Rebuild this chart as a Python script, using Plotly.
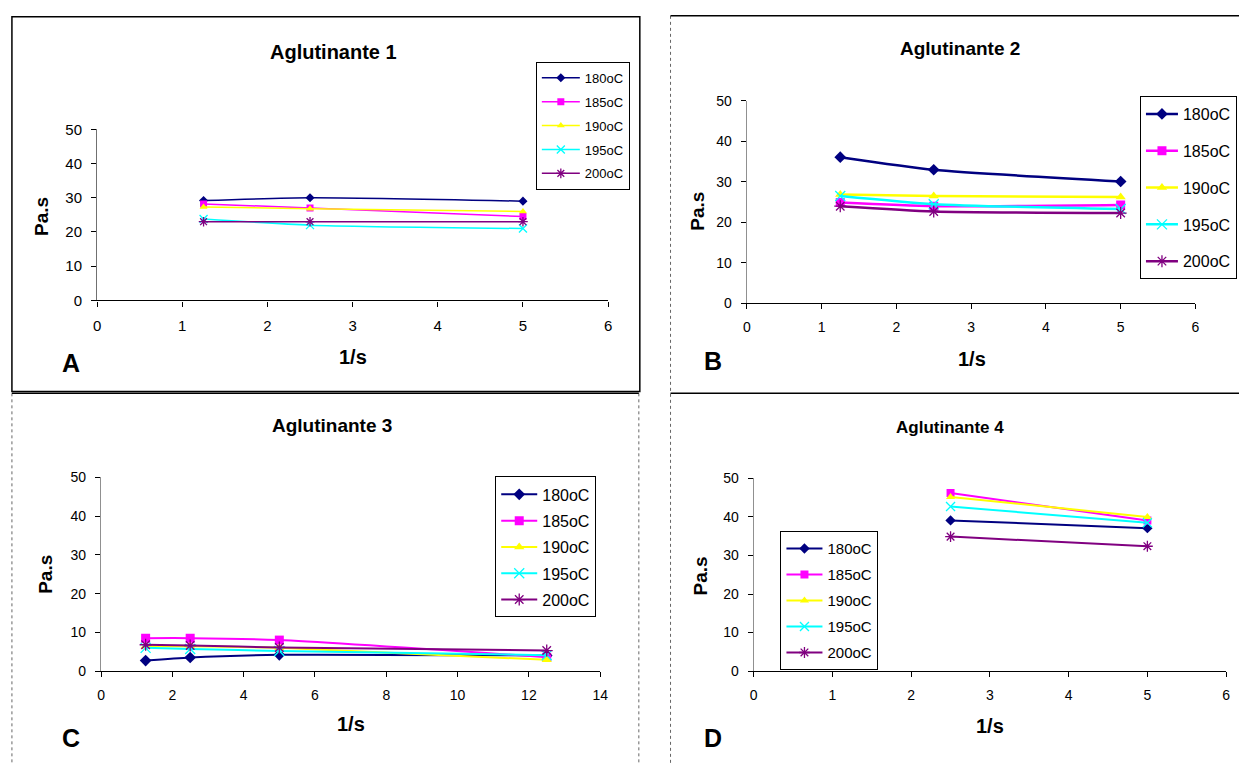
import plotly.graph_objects as go

W, H = 1247, 771

series_names = ["180oC", "185oC", "190oC", "195oC", "200oC"]
colors = ["#000080", "#FF00FF", "#FFFF00", "#00FFFF", "#800080"]
symbols = ["diamond", "square", "triangle-up", "x-thin-open", "asterisk-open"]

# Panel A - Aglutinante 1
x_a = [1.25, 2.5, 5]
a_180 = [29.2, 30.0, 29.0]
a_185 = [28.2, 27.0, 24.5]
a_190 = [27.3, 26.8, 26.0]
a_195 = [23.8, 22.0, 21.0]
a_200 = [23.0, 23.0, 23.0]

# Panel B - Aglutinante 2
x_b = [1.25, 2.5, 5]
b_180 = [36.1, 33.0, 30.1]
b_185 = [24.9, 24.0, 24.3]
b_190 = [26.9, 26.5, 26.3]
b_195 = [26.5, 24.5, 23.3]
b_200 = [24.0, 22.7, 22.3]

# Panel C - Aglutinante 3
x_c = [1.25, 2.5, 5, 12.5]
c_180 = [2.7, 3.5, 4.2, 4.0]
c_185 = [8.5, 8.5, 8.0, 3.6]
c_190 = [6.4, 6.4, 6.0, 2.9]
c_195 = [6.0, 5.7, 5.2, 4.1]
c_200 = [6.8, 6.6, 6.1, 5.3]

# Panel D - Aglutinante 4
x_d = [2.5, 5]
d_180 = [39.1, 37.1]
d_185 = [46.2, 39.1]
d_190 = [45.2, 40.0]
d_195 = [42.7, 38.5]
d_200 = [34.9, 32.4]

titles = ["Aglutinante 1", "Aglutinante 2", "Aglutinante 3", "Aglutinante 4"]
letters = ["A", "B", "C", "D"]
x_title = "1/s"
y_title = "Pa.s"

FONT = "Liberation Sans, Arial, sans-serif"


def px(x):
    return x / W


def py(y):
    return 1 - y / H


panels = [
    dict(x=x_a, ys=[a_180, a_185, a_190, a_195, a_200], xd=(94, 610), yd=(123, 298),
         xr=[0, 6], dt=1, legend=(537, 54), lfont=13, gap=4, iw=38, msize=7, lw=1.5,
         tfont=20, tick=15, ycol="#707070",
         title=(333, 44), xt=(352, 356), yt=(38, 212), let=(68, 362)),
    dict(x=x_b, ys=[b_180, b_185, b_190, b_195, b_200], xd=(750, 1203), yd=(94, 301),
         xr=[0, 6], dt=1, legend=(1147, 89), lfont=16, gap=13, iw=32, msize=9, lw=2.5,
         tfont=19, tick=14, ycol="#909090",
         title=(965, 40), xt=(977, 358), yt=(700, 207), let=(716, 360)),
    dict(x=x_c, ys=[c_180, c_185, c_190, c_195, c_200], xd=(98, 602), yd=(479, 677),
         xr=[0, 14], dt=2, legend=(496, 478), lfont=16, gap=2.5, iw=36, msize=9, lw=2,
         tfont=19, tick=14, ycol="#909090",
         title=(331, 426), xt=(350, 731), yt=(42, 578), let=(68, 745)),
    dict(x=x_d, ys=[d_180, d_185, d_190, d_195, d_200], xd=(757, 1234), yd=(480, 677),
         xr=[0, 6], dt=1, legend=(784, 534), lfont=15, gap=3.5, iw=36, msize=8, lw=2,
         tfont=17, tick=14, ycol="#909090",
         title=(955, 428), xt=(996, 733), yt=(703, 580), let=(716, 745)),
]

fig = go.Figure()
layout = dict(
    width=W, height=H, margin=dict(l=0, r=0, t=0, b=0),
    paper_bgcolor="white", plot_bgcolor="white",
    font=dict(family=FONT, color="black"),
    showlegend=True,
)
annotations = []
shapes = []


def label(text, x, y, size, angle=0):
    return dict(text=text, x=px(x), y=py(y), xref="paper", yref="paper",
                showarrow=False, textangle=angle, xanchor="center", yanchor="middle",
                font=dict(size=size, color="black", family=FONT))


for i, p in enumerate(panels):
    k = "" if i == 0 else str(i + 1)
    lg = "legend" if i == 0 else f"legend{i + 1}"
    for j in range(5):
        sym = symbols[j]
        open_sym = sym.endswith("-open")
        fig.add_trace(go.Scatter(
            x=p["x"], y=p["ys"][j], name=series_names[j],
            mode="lines+markers",
            line=dict(color=colors[j], width=p["lw"], shape="spline", smoothing=0.6),
            marker=dict(symbol=sym, size=p["msize"] + (1 if open_sym else 0), color=colors[j],
                        line=dict(color=colors[j], width=1.3 if open_sym else 0)),
            xaxis="x" + k, yaxis="y" + k, legend=lg, legendgroup=f"g{i}_{j}",
        ))
    layout["xaxis" + k] = dict(
        domain=[px(p["xd"][0]), px(p["xd"][1])], range=p["xr"], dtick=p["dt"], tick0=0,
        anchor="y" + k, showgrid=False, zeroline=False, showline=True,
        linecolor="black", linewidth=1.2, ticks="outside", ticklen=5, tickcolor="black",
        tickfont=dict(size=p["tick"], color="black"), ticklabelstandoff=6, fixedrange=True,
    )
    layout["yaxis" + k] = dict(
        domain=[py(p["yd"][1]), py(p["yd"][0])], range=[0, 50], dtick=10, tick0=0,
        anchor="x" + k, showgrid=False, zeroline=False, showline=True,
        linecolor=p["ycol"], linewidth=1.2, ticks="outside", ticklen=5, tickcolor="black",
        tickfont=dict(size=p["tick"], color="black"), ticklabelstandoff=6,
        fixedrange=True,
    )
    layout[lg] = dict(
        x=px(p["legend"][0]), y=py(p["legend"][1]), xanchor="left", yanchor="top",
        bgcolor="white", bordercolor="black", borderwidth=1,
        font=dict(size=p["lfont"], color="black", family=FONT),
        traceorder="grouped", tracegroupgap=p["gap"], itemwidth=p["iw"],
    )
    annotations.append(label(f"<b>{titles[i]}</b>", *p["title"], p["tfont"]))
    annotations.append(label(f"<b>{x_title}</b>", *p["xt"], 20))
    annotations.append(label(f"<b>{y_title}</b>", *p["yt"], 19, angle=-90))
    annotations.append(label(f"<b>{letters[i]}</b>", *p["let"], 25))

# panel frames
shapes.append(dict(type="rect", xref="paper", yref="paper",
                   x0=px(8), x1=px(642), y0=py(391), y1=py(8),
                   line=dict(color="black", width=1.5), layer="below"))
for (x, y0, y1) in [(673, 7, 771), (641, 393, 771), (8, 393, 771)]:
    shapes.append(dict(type="line", xref="paper", yref="paper",
                       x0=px(x), x1=px(x), y0=py(y0), y1=py(y1),
                       line=dict(color="#666666", width=1, dash="dot"), layer="below"))
for (x0, x1, y) in [(673, 1247, 7), (8, 641, 393), (673, 1247, 393)]:
    shapes.append(dict(type="line", xref="paper", yref="paper",
                       x0=px(x0), x1=px(x1), y0=py(y), y1=py(y),
                       line=dict(color="black", width=1.5), layer="below"))

layout["annotations"] = annotations
layout["shapes"] = shapes
fig.update_layout(**layout)
fig.write_html("out.html")
